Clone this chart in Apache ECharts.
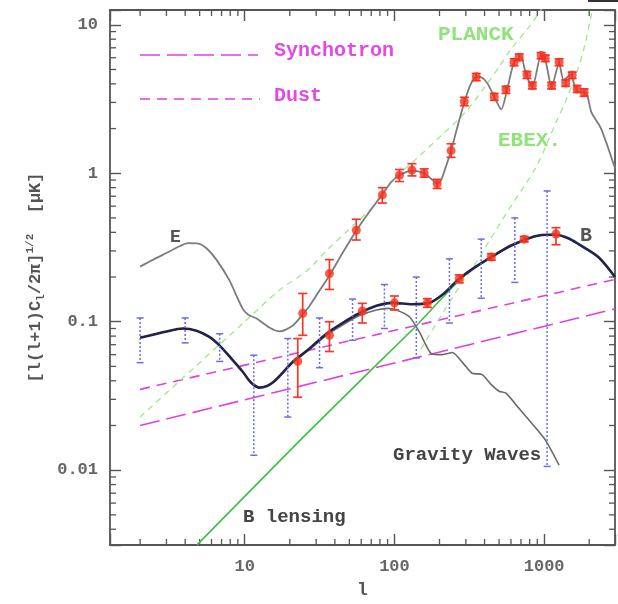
<!DOCTYPE html>
<html>
<head>
<meta charset="utf-8">
<script src="https://cdn.jsdelivr.net/npm/echarts@6/dist/echarts.min.js"></script>
<style>
  html, body { margin: 0; padding: 0; background: #fff; }
  #chart { width: 618px; height: 604px; }
</style>
</head>
<body>
<div id="chart"></div>
<script>
// ---- Multipole range and amplitude range (log-log) ----
const xMin = 1.2589, xMax = 2974;
const yMin = 0.003133, yMax = 12.58;

// ---- Theory curves: multipole l and amplitude [uK] ----
const eCurveL = [2, 2.5, 3, 3.5, 4.2, 4.9, 5.6, 6.5, 7.9, 9.7, 10.5, 12, 14.7, 17.1, 20.9, 24.4, 27, 31.6, 36.8, 45, 55.6, 68, 83, 95, 108, 131, 158, 180, 193, 205, 220, 239, 265, 293, 320, 352, 386, 420, 464, 517, 566, 630, 700, 758, 834, 955, 1018, 1122, 1259, 1350, 1500, 1660, 1900, 2070, 2400, 2974];
const eCurveV = [0.235, 0.265, 0.29, 0.315, 0.338, 0.336, 0.31, 0.26, 0.19, 0.122, 0.112, 0.105, 0.091, 0.086, 0.094, 0.112, 0.127, 0.162, 0.205, 0.29, 0.41, 0.55, 0.72, 0.87, 0.97, 1.04, 1.0, 0.9, 0.85, 0.9, 1.1, 1.42, 2.1, 3.0, 3.9, 4.46, 4.4, 4.0, 3.28, 2.69, 3.66, 5.6, 6.05, 4.6, 3.83, 6.2, 5.8, 3.83, 5.5, 4.25, 4.6, 3.55, 3.5, 2.57, 2.0, 1.08];

const bCurveL = [2, 3, 3.86, 4.76, 5.8, 6.8, 8.2, 9.7, 11, 12.6, 15.4, 20.9, 27.1, 35.1, 45, 58.4, 75.8, 97, 131, 171, 211, 271, 350, 444, 580, 736, 886, 1050, 1200, 1450, 1700, 2300, 2974];
const bCurveV = [0.078, 0.086, 0.09, 0.087, 0.079, 0.069, 0.056, 0.046, 0.039, 0.036, 0.039, 0.0536, 0.066, 0.083, 0.098, 0.114, 0.128, 0.134, 0.131, 0.134, 0.153, 0.195, 0.235, 0.273, 0.32, 0.355, 0.378, 0.385, 0.385, 0.365, 0.333, 0.273, 0.2];

const gwL = [2, 3, 3.86, 4.76, 5.8, 6.8, 8.2, 9.7, 11, 12.6, 15.4, 20.9, 27.1, 35.1, 45, 58.4, 75.8, 90, 103, 126, 147, 176, 209, 244, 290, 330, 386, 440, 501, 556, 681, 834, 1018, 1259];
const gwV = [0.078, 0.086, 0.09, 0.087, 0.079, 0.069, 0.056, 0.046, 0.039, 0.036, 0.039, 0.053, 0.065, 0.081, 0.095, 0.11, 0.12, 0.123, 0.12, 0.108, 0.085, 0.061, 0.06, 0.062, 0.052, 0.045, 0.044, 0.038, 0.034, 0.033, 0.026, 0.0205, 0.016, 0.0108];

const lensL = [4.8, 23.3, 65, 140, 209, 271, 350, 444, 580, 736, 886, 1050, 1200, 1450, 1700, 2300, 2974];
const lensV = [0.00314, 0.0158, 0.044, 0.094, 0.145, 0.19, 0.233, 0.272, 0.318, 0.354, 0.377, 0.384, 0.384, 0.364, 0.332, 0.272, 0.2];

// Foregrounds (power laws)
const syncL = [2, 2974];
const syncV = [0.02, 0.122];
const dustL = [2, 2974];
const dustV = [0.035, 0.193];

// Experimental noise curves
const planckL = [2, 5, 10, 17, 26, 35, 50, 72, 92, 140, 200, 300, 400, 500, 611, 800, 1000];
const planckV = [0.0228, 0.053, 0.1, 0.163, 0.22, 0.3, 0.42, 0.6, 0.85, 1.25, 1.75, 2.6, 3.8, 5.2, 7.0, 9.8, 13.5];
const ebexL = [150, 190, 270, 369, 430, 600, 883, 1200, 1400, 1700, 1900, 2100];
const ebexV = [0.065, 0.097, 0.17, 0.27, 0.35, 0.6, 1.1, 2.2, 3.1, 5.2, 7.8, 12.8];

// ---- Simulated measurements ----
// E-mode band powers: l, value, lower, upper
const eDataL  = [24.4, 36.8, 55.6, 83, 108, 131, 158, 193, 239, 293, 352, 464, 556, 630, 682, 768, 834, 955, 1018, 1122, 1259, 1393, 1540, 1660, 1850];
const eDataV  = [0.114, 0.211, 0.413, 0.715, 0.97, 1.05, 1.0, 0.85, 1.42, 3.04, 4.46, 3.28, 3.66, 5.6, 6.05, 4.6, 3.9, 6.2, 5.96, 3.9, 5.6, 4.06, 4.59, 3.7, 3.5];
const eDataLo = [0.081, 0.165, 0.355, 0.63, 0.88, 0.96, 0.94, 0.79, 1.28, 2.85, 4.2, 3.1, 3.45, 5.3, 5.75, 4.35, 3.7, 5.9, 5.65, 3.7, 5.3, 3.85, 4.35, 3.5, 3.3];
const eDataHi = [0.155, 0.262, 0.49, 0.8, 1.06, 1.16, 1.07, 0.91, 1.58, 3.25, 4.7, 3.45, 3.85, 5.9, 6.35, 4.85, 4.1, 6.5, 6.25, 4.1, 5.9, 4.25, 4.8, 3.9, 3.7];

// B-mode band powers
const bDataL  = [22.6, 36.8, 61, 100, 166, 271, 444, 736, 1200];
const bDataV  = [0.054, 0.081, 0.118, 0.134, 0.134, 0.195, 0.273, 0.36, 0.39];
const bDataLo = [0.031, 0.063, 0.098, 0.12, 0.125, 0.183, 0.26, 0.345, 0.33];
const bDataHi = [0.077, 0.1, 0.133, 0.149, 0.143, 0.207, 0.287, 0.375, 0.43];

// Cosmic-variance limited B-mode error bars (dotted)
const cvL  = [2, 4, 6.8, 11.5, 19.4, 31.6, 52.5, 85.7, 140, 233, 380, 637, 1047];
const cvLo = [0.053, 0.072, 0.054, 0.0126, 0.0228, 0.049, 0.075, 0.09, 0.057, 0.098, 0.144, 0.184, 0.0106];
const cvHi = [0.106, 0.106, 0.083, 0.0595, 0.077, 0.106, 0.142, 0.178, 0.2, 0.265, 0.36, 0.5, 0.76];

// Minor tick mantissas and decades
const minorMantissa = [2, 3, 4, 5, 6, 7, 8, 9];
const xDecades = [1, 10, 100, 1000];
const yDecades = [0.001, 0.01, 0.1, 1];

// ---- helpers ----
const zip = (a, b) => a.map((v, i) => [v, b[i]]);
const zip3 = (a, b, c) => a.map((v, i) => [v, b[i], c[i]]);

const xMinor = [];
xDecades.forEach(d => minorMantissa.forEach(m => { const v = m * d; if (v > xMin && v < xMax) xMinor.push([v, 1]); }));
const yMinor = [];
yDecades.forEach(d => minorMantissa.forEach(m => { const v = m * d; if (v > yMin && v < yMax) yMinor.push([10, v]); }));

const monoFont = 'Liberation Mono';
const axisColor = '#555555';

function decadeLabel(v) {
  const lg = Math.log10(v);
  const e = Math.round(lg);
  if (Math.abs(lg - e) > 1e-6) return '';
  return e >= 0 ? String(Math.pow(10, e)) : Math.pow(10, e).toFixed(-e);
}

function errorBarItem(color, dashed, cap, width) {
  return function (params, api) {
    const l = api.value(0);
    const top = api.coord([l, api.value(2)]);
    const bot = api.coord([l, api.value(1)]);
    const style = { stroke: color, lineWidth: width, lineDash: dashed ? [2, 2] : null };
    return {
      type: 'group',
      children: [
        { type: 'line', shape: { x1: top[0], y1: top[1], x2: bot[0], y2: bot[1] }, style: style },
        { type: 'line', shape: { x1: top[0] - cap, y1: top[1], x2: top[0] + cap, y2: top[1] }, style: { stroke: color, lineWidth: width } },
        { type: 'line', shape: { x1: bot[0] - cap, y1: bot[1], x2: bot[0] + cap, y2: bot[1] }, style: { stroke: color, lineWidth: width } }
      ]
    };
  };
}

function lineSeries(name, xs, ys, color, width, dash, z, smooth) {
  return {
    name: name, type: 'line', data: zip(xs, ys), showSymbol: false, symbol: 'none',
    smooth: smooth, z: z, silent: true,
    lineStyle: { color: color, width: width, type: dash || 'solid' }
  };
}

const chart = echarts.init(document.getElementById('chart'), null, { renderer: 'canvas' });

const axisCommonX = {
  type: 'log', logBase: 10, min: xMin, max: xMax,
  axisLine: { show: true, lineStyle: { color: axisColor, width: 1.8 } },
  axisTick: { show: true, inside: true, length: 11, lineStyle: { color: axisColor, width: 1.4 } },
  splitLine: { show: false }, minorTick: { show: false }
};
const axisCommonY = {
  type: 'log', logBase: 10, min: yMin, max: yMax,
  axisLine: { show: true, lineStyle: { color: axisColor, width: 1.8 } },
  axisTick: { show: true, inside: true, length: 11, lineStyle: { color: axisColor, width: 1.4 } },
  splitLine: { show: false }, minorTick: { show: false }
};

const option = {
  animation: false,
  backgroundColor: '#ffffff',
  grid: { left: 110, right: 2, top: 10, bottom: 51, containLabel: false },
  xAxis: [
    Object.assign({}, axisCommonX, {
      position: 'bottom', name: 'l', nameLocation: 'middle', nameGap: 36,
      nameTextStyle: { fontFamily: monoFont, fontWeight: 'bold', fontSize: 18, color: '#555' },
      axisLabel: { formatter: decadeLabel, margin: 13, fontFamily: monoFont, fontWeight: 'bold', fontSize: 17, color: '#666' }
    }),
    Object.assign({}, axisCommonX, { position: 'top', axisLabel: { show: false } })
  ],
  yAxis: [
    Object.assign({}, axisCommonY, {
      position: 'left',
      name: '{a|[l(l+1)C}{s|l}{a|/2π]}{p|1/2}{a|  [μK]}',
      nameLocation: 'middle', nameGap: 58, nameRotate: 90,
      nameTextStyle: {
        color: '#555',
        rich: {
          a: { fontFamily: monoFont, fontWeight: 'bold', fontSize: 17, color: '#555', lineHeight: 22 },
          s: { fontFamily: monoFont, fontWeight: 'bold', fontSize: 11, color: '#555', lineHeight: 11, verticalAlign: 'bottom' },
          p: { fontFamily: monoFont, fontWeight: 'bold', fontSize: 11, color: '#555', lineHeight: 11, verticalAlign: 'top' }
        }
      },
      axisLabel: { formatter: decadeLabel, margin: 12, fontFamily: monoFont, fontWeight: 'bold', fontSize: 17, color: '#666' }
    }),
    Object.assign({}, axisCommonY, { position: 'right', axisLabel: { show: false } })
  ],
  series: [
    // minor ticks on all four sides
    {
      type: 'custom', silent: true, z: 1, data: xMinor, encode: { x: 0, y: 1 },
      renderItem: function (params, api) {
        const cs = params.coordSys;
        const p = api.coord([api.value(0), 1]);
        const st = { stroke: axisColor, lineWidth: 1.3 };
        return { type: 'group', children: [
          { type: 'line', shape: { x1: p[0], y1: cs.y + cs.height, x2: p[0], y2: cs.y + cs.height - 6 }, style: st },
          { type: 'line', shape: { x1: p[0], y1: cs.y, x2: p[0], y2: cs.y + 6 }, style: st }
        ] };
      }
    },
    {
      type: 'custom', silent: true, z: 1, data: yMinor, encode: { x: 0, y: 1 },
      renderItem: function (params, api) {
        const cs = params.coordSys;
        const p = api.coord([10, api.value(1)]);
        const st = { stroke: axisColor, lineWidth: 1.3 };
        return { type: 'group', children: [
          { type: 'line', shape: { x1: cs.x, y1: p[1], x2: cs.x + 6, y2: p[1] }, style: st },
          { type: 'line', shape: { x1: cs.x + cs.width, y1: p[1], x2: cs.x + cs.width - 6, y2: p[1] }, style: st }
        ] };
      }
    },
    // foregrounds
    lineSeries('Synchotron', syncL, syncV, '#e040e0', 1.6, [20, 7], 2, false),
    lineSeries('Dust', dustL, dustV, '#e040e0', 1.6, [10, 7], 2, false),
    // experiments
    lineSeries('PLANCK', planckL, planckV, '#9ee88a', 1.3, [6, 5], 2, 0.3),
    lineSeries('EBEX', ebexL, ebexV, '#9ee88a', 1.3, [6, 5], 2, 0.3),
    // theory
    lineSeries('B lensing', lensL, lensV, '#3cc03c', 1.6, null, 3, 0.2),
    lineSeries('Gravity Waves', gwL, gwV, '#6a6a6a', 1.6, null, 4, 0.2),
    lineSeries('E', eCurveL, eCurveV, '#7c7c7c', 1.8, null, 4, 0.25),
    lineSeries('B', bCurveL, bCurveV, '#22224a', 2.6, null, 5, 0.3),
    // cosmic variance error bars
    {
      type: 'custom', silent: true, z: 6, data: zip3(cvL, cvLo, cvHi), encode: { x: 0, y: [1, 2] },
      renderItem: errorBarItem('#6a6af0', true, 3.5, 1.5)
    },
    // band power error bars and points
    {
      type: 'custom', silent: true, z: 7, data: zip3(eDataL, eDataLo, eDataHi), encode: { x: 0, y: [1, 2] },
      renderItem: errorBarItem('#f23a2a', false, 4.5, 1.7)
    },
    {
      type: 'custom', silent: true, z: 7, data: zip3(bDataL, bDataLo, bDataHi), encode: { x: 0, y: [1, 2] },
      renderItem: errorBarItem('#f23a2a', false, 4.5, 1.7)
    },
    {
      type: 'scatter', silent: true, z: 8, data: zip(eDataL, eDataV), symbol: 'circle', symbolSize: 9,
      itemStyle: { color: '#f5321f' }
    },
    {
      type: 'scatter', silent: true, z: 8, data: zip(bDataL, bDataV), symbol: 'circle', symbolSize: 9,
      itemStyle: { color: '#f5321f' }
    }
  ],
  graphic: [
    // foreground key
    { type: 'line', shape: { x1: 140, y1: 55, x2: 258, y2: 55 }, style: { stroke: '#e040e0', lineWidth: 1.6, lineDash: [20, 7] } },
    { type: 'text', left: 274, top: 41, style: { text: 'Synchotron', font: 'bold 20px "Liberation Mono"', fill: '#e24ae2' } },
    { type: 'line', shape: { x1: 140, y1: 99, x2: 260, y2: 99 }, style: { stroke: '#e040e0', lineWidth: 1.6, lineDash: [10, 7] } },
    { type: 'text', left: 274, top: 86, style: { text: 'Dust', font: 'bold 20px "Liberation Mono"', fill: '#e24ae2' } },
    // curve labels
    { type: 'text', left: 170, top: 228, style: { text: 'E', font: 'bold 18px "Liberation Mono"', fill: '#555' } },
    { type: 'text', left: 580, top: 226, style: { text: 'B', font: 'bold 20px "Liberation Mono"', fill: '#555' } },
    { type: 'text', left: 438, top: 24, style: { text: 'PLANCK', font: 'bold 21px "Liberation Mono"', fill: '#8ee47a' } },
    { type: 'text', left: 498, top: 130, style: { text: 'EBEX.', font: 'bold 21px "Liberation Mono"', fill: '#8ee47a' } },
    { type: 'text', left: 393, top: 446, style: { text: 'Gravity Waves', font: 'bold 19px "Liberation Mono"', fill: '#444' } },
    { type: 'text', left: 243, top: 508, style: { text: 'B lensing', font: 'bold 19px "Liberation Mono"', fill: '#444' } },
    { type: 'rect', shape: { x: 588, y: 0, width: 30, height: 2 }, style: { fill: '#333' } }
  ]
};

chart.setOption(option);
</script>
</body>
</html>
